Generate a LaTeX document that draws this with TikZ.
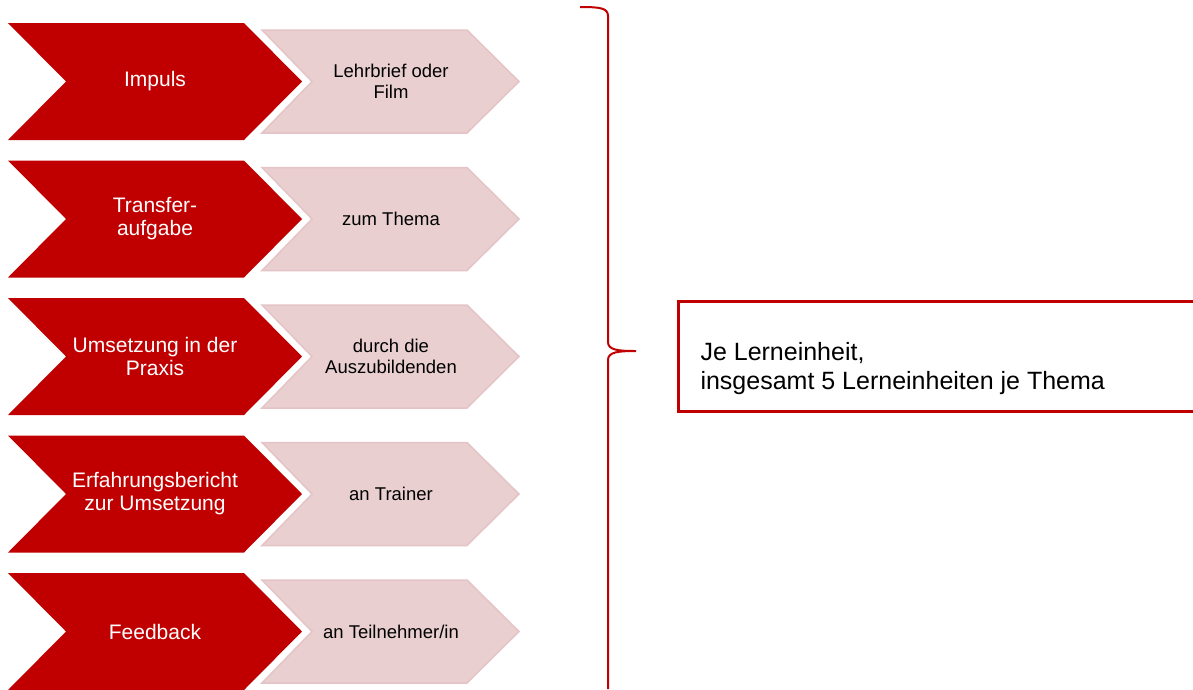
\documentclass[tikz,border=0pt]{standalone}
\usepackage{fontspec}
\setmainfont{Liberation Sans}
\definecolor{darkred}{RGB}{192,0,0}
\definecolor{rosefill}{RGB}{234,207,208}
\definecolor{roseline}{RGB}{228,196,198}
\tikzset{
  steptext/.style={text=white, align=center, font=\fontsize{21}{23}\selectfont},
  notetext/.style={text=black, align=center, font=\fontsize{18.5}{20.5}\selectfont},
  boxtext/.style={text=black, align=left, anchor=west, font=\fontsize{25}{29}\selectfont}
}
\begin{document}
\begin{tikzpicture}[x=1pt,y=-1pt]
  \useasboundingbox (0,0) rectangle (1193,689);
  \foreach \n/\yc/\main/\sub in {1/81.5/{Impuls}/{Lehrbrief oder\\Film},
      2/219/{Transfer-\\aufgabe}/{zum Thema},
      3/356.5/{Umsetzung in der\\Praxis}/{durch die\\Auszubildenden},
      4/494/{Erfahrungsbericht\\zur Umsetzung}/{an Trainer},
      5/631.5/{Feedback}/{an Teilnehmer/in}}
  {
    \fill[darkred] (8,\yc-58.5) -- (244,\yc-58.5) -- (302,\yc) -- (244,\yc+58.5)
      -- (8,\yc+58.5) -- (66,\yc) -- cycle;
    \filldraw[fill=rosefill,draw=roseline,line width=1.5pt] (262,\yc-51.5) -- (467,\yc-51.5)
      -- (519,\yc) -- (467,\yc+51.5) -- (262,\yc+51.5) -- (312,\yc) -- cycle;
    \node[steptext] (main-\n) at (155,\yc) {\main};
    \node[notetext] (sub-\n) at (391,\yc) {\sub};
  }
%%%
  \draw[darkred,line width=2pt] (580,7) .. controls (600,7) and (608,8) .. (608,16)
    -- (608,342) .. controls (608,350) and (618,351) .. (636,351)
    .. controls (618,351) and (608,352) .. (608,360) -- (608,689);
%%%
  \draw[darkred,line width=3pt] (678,301) rectangle (1205,411);
  \node[boxtext] (lernbox) at (697,369) {Je Lerneinheit,\\insgesamt 5 Lerneinheiten je Thema};
\end{tikzpicture}
\end{document}
